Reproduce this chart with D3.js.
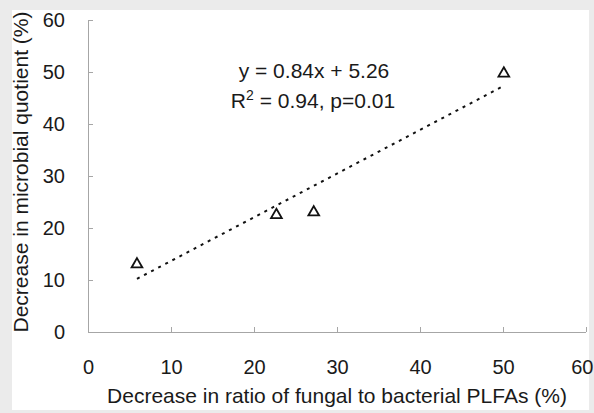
<!DOCTYPE html>
<html>
<head>
<meta charset="utf-8">
<script src="https://cdn.jsdelivr.net/npm/d3@7"></script>
<style>
  body { margin: 0; background: #ebebeb; }
  svg { display: block; }
  text { font-family: "Liberation Sans", Arial, sans-serif; fill: #1a1a1a; }
  .axis path, .axis line { stroke: #a6a6a6; }
  .axis text { fill: #1a1a1a; }
</style>
</head>
<body>
<div id="chart"></div>
<script>
// data
var fbDecrease = [5.9, 22.7, 27.2, 50.1];   // x: decrease in fungal/bacterial ratio (%)
var mqDecrease = [13.2, 22.7, 23.2, 49.9];  // y: decrease in microbial quotient (%)
var xTicks = [0, 10, 20, 30, 40, 50, 60];
var yTicks = [0, 10, 20, 30, 40, 50, 60];
var slope = 0.84, intercept = 5.26;
var fitRange = [5.9, 50.1];

var widthx = 594; // canvas width
var heighty = 413; // canvas height
var margin = {top: 20, right: 8, bottom: 81, left: 88},
    width = widthx - margin.left - margin.right,
    height = heighty - margin.top - margin.bottom;

var root = d3.select("#chart")
    .append("svg")
    .attr("width", widthx)
    .attr("height", heighty);

// white panel inside the grey frame
root.append("rect")
    .attr("x", 12).attr("y", 10)
    .attr("width", 577).attr("height", 400)
    .attr("fill", "#fff");

var svg = root.append("g")
    .attr("transform", "translate(" + margin.left + "," + margin.top + ")");

var x = d3.scaleLinear().domain([0, 60]).range([0, width]);
var y = d3.scaleLinear().domain([0, 60]).range([height, 0]);

svg.append("g")
    .attr("class", "axis axis--x")
    .attr("transform", "translate(0," + height + ")")
    .call(d3.axisBottom(x).tickValues(xTicks).tickSizeInner(-5).tickSizeOuter(0).tickPadding(28))
    .call(function(g) { g.select(".domain").attr("d", "M0,0.5H" + width); });

svg.append("g")
    .attr("class", "axis axis--y")
    .call(d3.axisLeft(y).tickValues(yTicks).tickSizeInner(-5).tickSizeOuter(0).tickPadding(23))
    .call(function(g) { g.select(".domain").attr("d", "M0.5,0V" + height); });

svg.selectAll(".axis text").attr("font-family", null).attr("font-size", null).style("font-size", "20px");
// last x label would run off the edge, pull it in
svg.selectAll(".axis--x .tick text")
    .filter(function(d) { return d === 60; })
    .attr("text-anchor", "end")
    .attr("x", 7);

// regression line
var fitLine = d3.line()
    .x(function(d) { return x(d); })
    .y(function(d) { return y(slope * d + intercept); });

svg.append("path")
    .datum(fitRange)
    .attr("d", fitLine)
    .attr("fill", "none")
    .attr("stroke", "#111")
    .attr("stroke-width", 2)
    .attr("stroke-dasharray", "3,5");

// open triangles
var tri = d3.symbol().type(d3.symbolTriangle).size(50);
svg.selectAll(".pt")
    .data(fbDecrease)
    .enter().append("path")
    .attr("class", "pt")
    .attr("d", tri)
    .attr("transform", function(d, i) {
        return "translate(" + x(d) + "," + (y(mqDecrease[i]) + 1) + ")";
    })
    .attr("fill", "none")
    .attr("stroke", "#111")
    .attr("stroke-width", 1.8);

// equation
var eq = svg.append("g").attr("text-anchor", "middle").style("font-size", "21px");
eq.append("text")
    .attr("x", 314 - margin.left).attr("y", 78 - margin.top)
    .text("y = " + slope.toFixed(2) + "x + " + intercept.toFixed(2));
var r2 = eq.append("text")
    .attr("x", 313 - margin.left).attr("y", 108 - margin.top);
r2.append("tspan").text("R");
r2.append("tspan").attr("dy", -8).style("font-size", "14px").text("2");
r2.append("tspan").attr("dy", 8).text(" = 0.94, p=0.01");

// axis titles
root.append("text")
    .attr("x", 337).attr("y", 403)
    .attr("text-anchor", "middle")
    .style("font-size", "21px")
    .text("Decrease in ratio of fungal to bacterial PLFAs (%)");

root.append("text")
    .attr("transform", "translate(28,172) rotate(-90)")
    .attr("text-anchor", "middle")
    .style("font-size", "21px")
    .text("Decrease in microbial quotient (%)");
</script>
</body>
</html>
